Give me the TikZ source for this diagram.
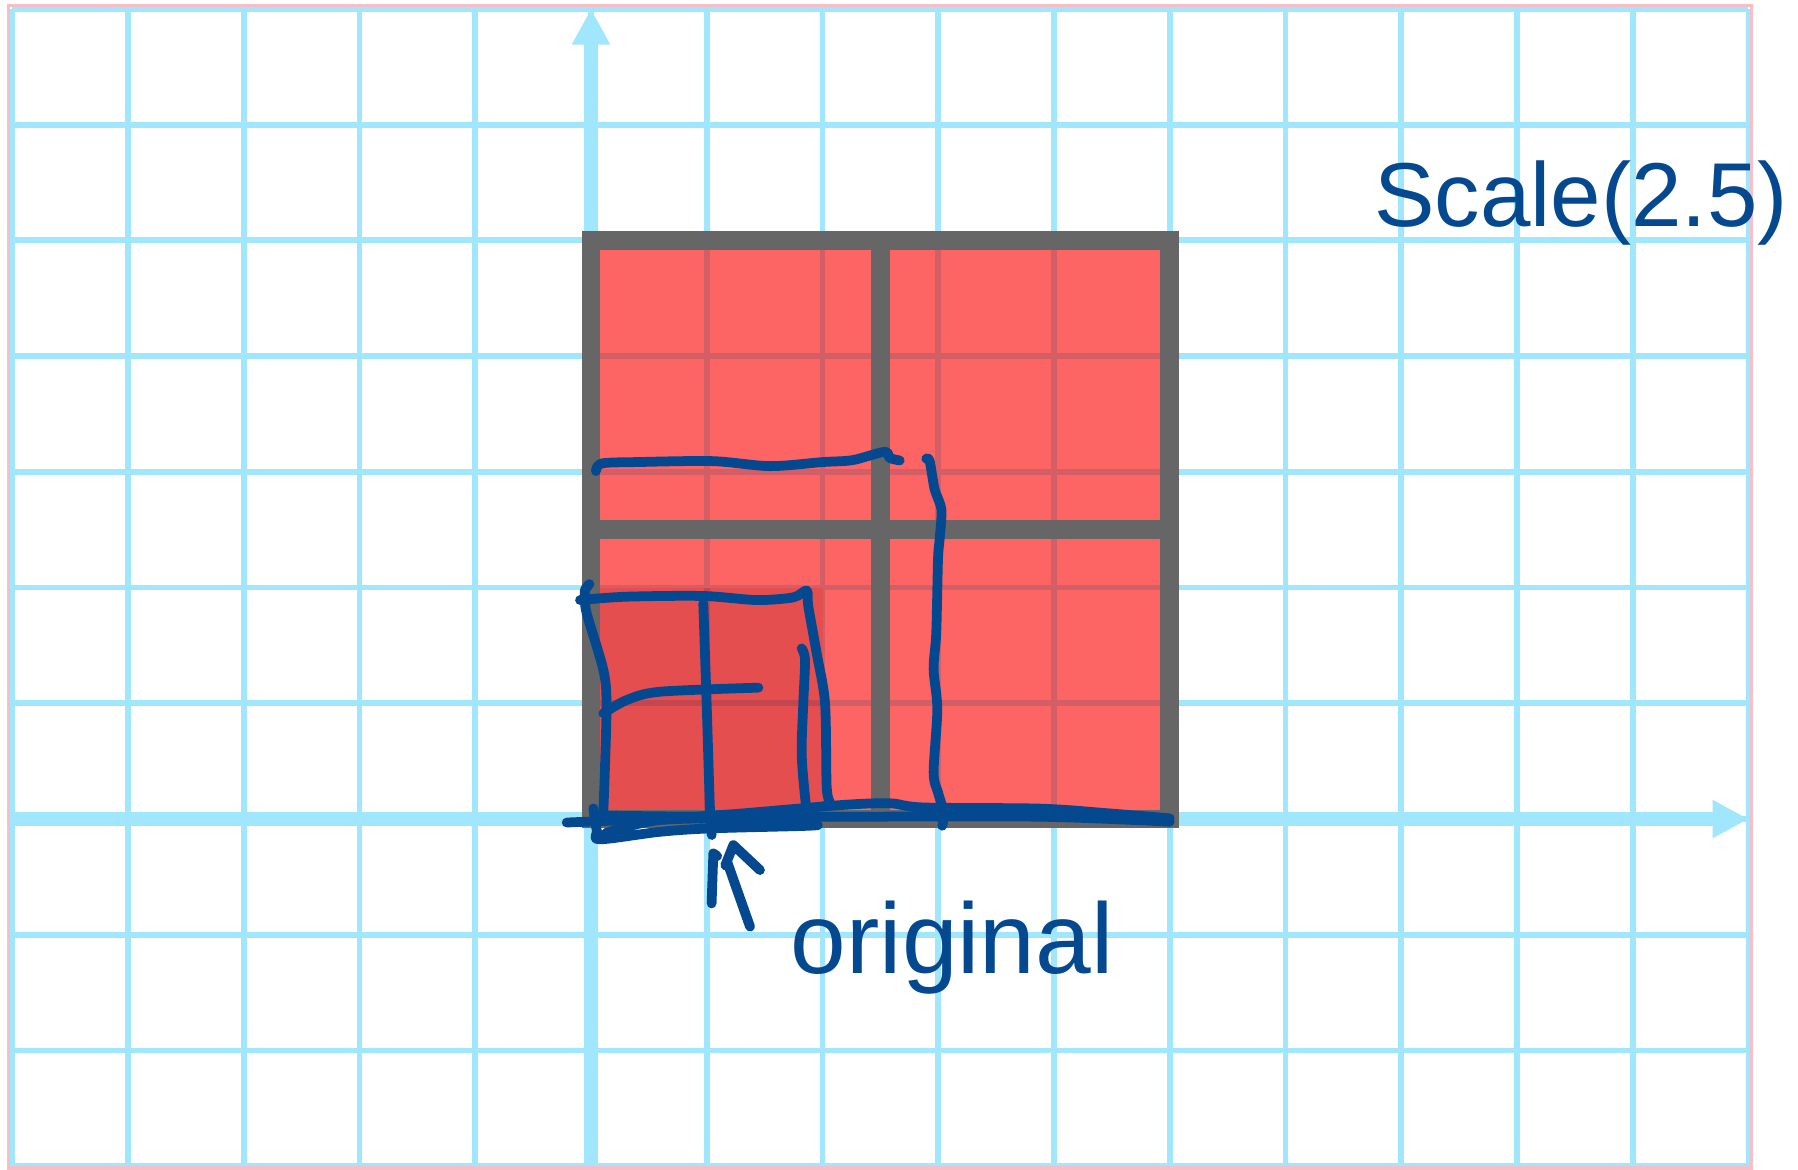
\documentclass[tikz,border=0pt]{standalone}
\usepackage{fontspec}
\setmainfont{Liberation Sans}
\usetikzlibrary{arrows.meta}
\definecolor{gridblue}{RGB}{160,230,252}
\definecolor{bordpink}{RGB}{248,190,200}
\definecolor{sqred}{RGB}{253,100,100}
\definecolor{sqgrid}{RGB}{212,94,102}
\definecolor{origred}{RGB}{229,78,79}
\definecolor{origgrid}{RGB}{196,70,78}
\definecolor{edgegray}{RGB}{102,102,102}
\definecolor{inkblue}{RGB}{4,72,143}
\begin{document}
\begin{tikzpicture}[x=1cm,y=1cm,
  gridline/.style={draw=gridblue, line width=1.45pt},
  axisline/.style={draw=gridblue, line width=3.5pt, -{Triangle[length=3.1mm,width=3.1mm]}},
  redgrid/.style={draw=sqgrid, line width=1.45pt},
  edgeline/.style={draw=edgegray, line width=4.6pt},
  ink/.style={draw=inkblue, line width=2.4pt, line cap=round, line join=round},
  inktext/.style={text=inkblue, inner sep=0pt},
]
\useasboundingbox (-5.106,-3.032) rectangle (10.428,7.076);
\fill[white] (-5.106,-3.032) rectangle (10.428,7.076);
% grid paper
\draw[gridline] (-5,-3) grid (10,7);
\draw[axisline] (-5,0) -- (10,0);
\draw[axisline] (0,-3) -- (0,7);
\draw[bordpink, line width=0.8pt] (-5.03,-3.015) rectangle (10.026,7.028);
% scaled square
\fill[sqred] (0,0) rectangle (5,5);
\draw[redgrid] (1,0)--(1,5) (2,0)--(2,5) (3,0)--(3,5) (4,0)--(4,5)
               (0,1)--(5,1) (0,2)--(5,2) (0,3)--(5,3) (0,4)--(5,4);
% original square
\fill[origred] (0,0) rectangle (2,2);
\draw[draw=origgrid, line width=1.45pt] (1,0)--(1,2) (0,1)--(2,1);
% grey outline of the scaled square
\draw[edgeline, line join=miter] (0,0) rectangle (5,5);
\draw[edgeline] (2.5,0)--(2.5,5) (0,2.5)--(5,2.5);
% hand-drawn sketch of the scaled square
\draw[ink] plot[smooth, tension=0.5] coordinates {(0.043,3.006) (0.092,3.072) (0.394,3.084) (1.053,3.092) (1.545,3.049) (2.002,3.084) (2.261,3.101) (2.537,3.173) (2.58,3.12) (2.667,3.098)};
\draw[ink] plot[smooth, tension=0.5] coordinates {(2.897,3.113) (2.926,3.092) (2.969,2.848) (3.027,2.675) (3.012,2.417) (2.998,2.244) (2.983,1.611) (2.960,1.295) (2.992,0.949) (2.960,0.403) (2.998,0.230) (3.047,0.058) (3.035,-0.058)};
\draw[ink] plot[smooth, tension=0.5] coordinates {(-0.21,-0.03) (0.5,0.0) (1.2,0.04) (2.15,0.12) (2.58,0.136) (2.87,0.10) (3.88,0.09) (4.46,0.05) (5.0,0.006)};
\draw[ink] plot[smooth, tension=0.5] coordinates {(0.05,0.03) (1.0,0.02) (2.15,0.02) (3.88,0.02) (5.0,-0.023)};
% hand-drawn sketch of the original square
\draw[ink] plot[smooth, tension=0.5] coordinates {(-0.014,2.030) (-0.052,1.978) (-0.052,1.906) (-0.037,1.777) (0.107,1.287) (0.134,1.0) (0.120,0.423) (0.107,0.078)};
\draw[ink] plot[smooth, tension=0.5] coordinates {(-0.095,1.892) (0.308,1.921) (0.970,1.927) (1.431,1.892) (1.748,1.915) (1.863,1.973) (1.878,1.834) (1.950,1.431) (2.022,1.0) (2.036,0.279) (2.065,0.135) (2.03,0.12)};
\draw[ink] plot[smooth, tension=0.5] coordinates {(0.970,1.863) (0.999,1.0) (1.028,0.078) (1.043,-0.138)};
\draw[ink] plot[smooth, tension=0.5] coordinates {(0.107,0.913) (0.308,1.028) (0.596,1.100) (1.446,1.135)};
\draw[ink] plot[smooth, tension=0.5] coordinates {(1.820,1.474) (1.849,1.374) (1.834,1.0) (1.820,0.567) (1.849,0.193) (1.878,-0.037)};
\draw[ink] plot[smooth, tension=0.5] coordinates {(0.02,0.092) (0.05,-0.10) (0.078,-0.175) (0.596,-0.110) (1.028,-0.081) (1.877,-0.058) (1.906,-0.043) (1.46,0.006) (0.596,-0.009) (0.13,-0.12)};
% arrow pointing to the original square
\draw[ink] (1.042,-0.729) -- (1.057,-0.297) -- (1.09,-0.32);
\draw[ink] (1.16,-0.40) -- (1.230,-0.225) -- (1.460,-0.441);
\draw[ink] (1.18,-0.38) -- (1.374,-0.930);
% labels
\node[inktext, anchor=base west, font=\fontsize{22.3}{26}\selectfont] (scaletxt) at (6.76,5.117) {Scale(2.5)};
\node[inktext, anchor=base west, font=\fontsize{24.6}{29}\selectfont] (origtxt) at (1.72,-1.333) {original};
\end{tikzpicture}
\end{document}
